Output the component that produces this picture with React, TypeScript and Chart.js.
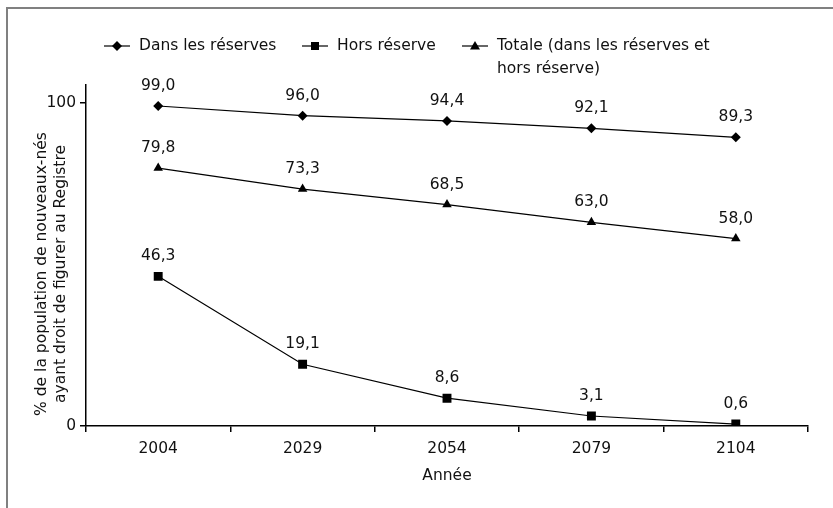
import React, { useEffect, useRef } from "react";
import { Chart, registerables } from "chart.js";

Chart.register(...registerables);

const categories = ["2004", "2029", "2054", "2079", "2104"];
const dansReserves = [99.0, 96.0, 94.4, 92.1, 89.3];
const horsReserve = [46.3, 19.1, 8.6, 3.1, 0.6];
const totale = [79.8, 73.3, 68.5, 63.0, 58.0];
const seriesNames = ["Dans les réserves", "Hors réserve", "Totale (dans les réserves et\nhors réserve)"];
const yTickValues = [0, 100];
const yTitleLines = ["% de la population de nouveaux-nés", "ayant droit de figurer au Registre"];
const xTitle = "Année";

const FONT = "'DejaVu Sans', sans-serif";
const FS = 15.5;

const fmt = (v: number) => v.toFixed(1).replace(".", ",");

const drawMarker = (ctx: CanvasRenderingContext2D, style: string, x: number, y: number) => {
  ctx.save();
  ctx.fillStyle = "#000";
  ctx.beginPath();
  if (style === "rectRot") {
    const r = 5;
    ctx.moveTo(x, y - r);
    ctx.lineTo(x + r, y);
    ctx.lineTo(x, y + r);
    ctx.lineTo(x - r, y);
  } else if (style === "rect") {
    const r = 4;
    ctx.rect(x - r, y - r, 2 * r, 2 * r);
  } else {
    const r = 5;
    ctx.moveTo(x, y - r);
    ctx.lineTo(x + r, y + r * 0.7);
    ctx.lineTo(x - r, y + r * 0.7);
  }
  ctx.closePath();
  ctx.fill();
  ctx.restore();
};

const customPlugin = {
  id: "customDraw",
  afterDatasetsDraw(chart: any) {
    const ctx: CanvasRenderingContext2D = chart.ctx;
    ctx.save();
    ctx.font = `${FS}px ${FONT}`;
    ctx.fillStyle = "#111";
    ctx.textAlign = "center";
    ctx.textBaseline = "middle";
    chart.data.datasets.forEach((ds: any, i: number) => {
      const meta = chart.getDatasetMeta(i);
      meta.data.forEach((pt: any, j: number) => {
        ctx.fillText(fmt(ds.data[j]), pt.x, pt.y - 20);
      });
    });

    // legend
    const legendItems = [
      { x: 104, style: "rectRot" },
      { x: 302, style: "rect" },
      { x: 462, style: "triangle" },
    ];
    const ly = 46;
    ctx.textAlign = "left";
    legendItems.forEach((it, i) => {
      ctx.strokeStyle = "#000";
      ctx.lineWidth = 1.2;
      ctx.beginPath();
      ctx.moveTo(it.x, ly);
      ctx.lineTo(it.x + 26, ly);
      ctx.stroke();
      drawMarker(ctx, it.style, it.x + 13, ly);
      const lines = seriesNames[i].split("\n");
      lines.forEach((l, k) => {
        ctx.fillText(l, it.x + 35, ly + k * 23);
      });
    });

    // y title
    const area = chart.chartArea;
    ctx.save();
    ctx.translate(42, 274);
    ctx.rotate(-Math.PI / 2);
    ctx.textAlign = "center";
    yTitleLines.forEach((l, k) => ctx.fillText(l, 0, k * 19));
    ctx.restore();

    // x title
    ctx.textAlign = "center";
    ctx.fillText(xTitle, (area.left + area.right) / 2, 476);
    ctx.restore();
  },
};

export default function App() {
  const ref = useRef<HTMLCanvasElement | null>(null);
  useEffect(() => {
    if (!ref.current) return;
    const mk = (label: string, data: number[], style: string, r: number) => ({
      label,
      data,
      borderColor: "#000",
      backgroundColor: "#000",
      borderWidth: 1.2,
      pointStyle: style,
      pointRadius: r,
      pointBorderWidth: 0,
      fill: false,
      tension: 0,
    });
    const chart = new Chart(ref.current, {
      type: "line",
      data: {
        labels: categories,
        datasets: [
          mk(seriesNames[0], dansReserves, "rectRot", 5),
          mk(seriesNames[1], horsReserve, "rect", 6.3),
          mk(seriesNames[2], totale, "triangle", 5.5),
        ],
      },
      options: {
        animation: false,
        responsive: false,
        devicePixelRatio: 1,
        layout: { padding: { left: 0, top: 85, right: 25, bottom: 0 } },
        plugins: { legend: { display: false }, tooltip: { enabled: false } },
        scales: {
          x: {
            type: "category",
            offset: true,
            afterFit: (s: any) => {
              s.height = 82;
            },
            grid: {
              offset: true,
              drawOnChartArea: false,
              drawTicks: true,
              tickLength: 6,
              color: "#000",
              lineWidth: 1.5,
            },
            border: { display: true, color: "#000", width: 1.5 },
            ticks: {
              color: "#111",
              font: { family: FONT, size: FS },
              padding: 8,
              maxRotation: 0,
            },
          },
          y: {
            min: 0,
            max: 105.5,
            afterFit: (s: any) => {
              s.width = 86;
            },
            afterBuildTicks: (s: any) => {
              s.ticks = yTickValues.map((v) => ({ value: v }));
            },
            grid: {
              drawOnChartArea: false,
              drawTicks: true,
              tickLength: 6,
              color: "#000",
              lineWidth: 1.5,
            },
            border: { display: true, color: "#000", width: 1.5 },
            ticks: {
              color: "#111",
              font: { family: FONT, size: FS },
              padding: 4,
              callback: (v: any) => String(v),
            },
          },
        },
      },
      plugins: [customPlugin],
    });
    return () => chart.destroy();
  }, []);
  return (
    <div style={{ position: "absolute", left: 0, top: 0, width: 833, height: 508, background: "#fff" }}>
      <div
        style={{
          position: "absolute",
          left: 6,
          top: 7,
          right: 0,
          bottom: 0,
          borderTop: "2px solid #808080",
          borderLeft: "2px solid #808080",
        }}
      />
      <canvas ref={ref} width={833} height={508} style={{ position: "absolute", left: 0, top: 0 }} />
    </div>
  );
}
